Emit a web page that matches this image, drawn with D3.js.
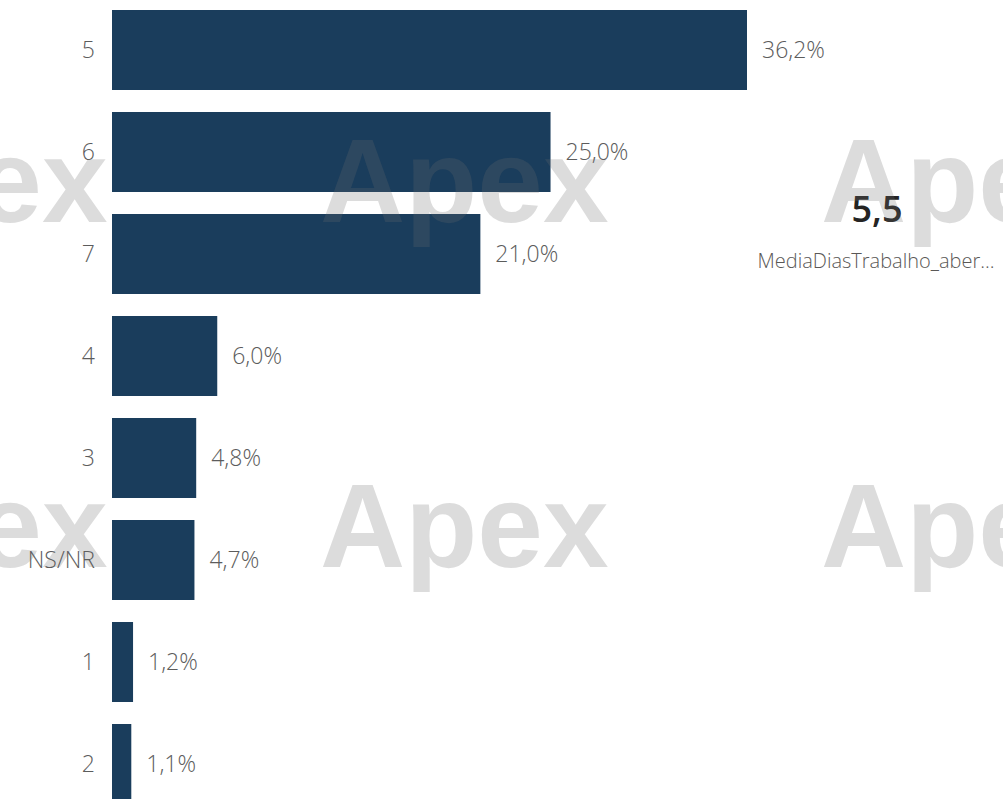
<!DOCTYPE html>
<html>
<head>
<meta charset="utf-8">
<script src="https://cdn.jsdelivr.net/npm/d3@7"></script>
<style>
  body { margin: 0; background: #fff; }
  svg { display: block; }
</style>
</head>
<body>
<div class="chart"></div>
<script>
// chart data
var categories = ["5", "6", "7", "4", "3", "NS/NR", "1", "2"];
var percents = [36.2, 25.0, 21.0, 6.0, 4.8, 4.7, 1.2, 1.1];
var kpiValue = "5,5";
var kpiLabel = "MediaDiasTrabalho_aber...";

var svgWidth = 1003;
var svgHeight = 799;

var svg = d3.select(".chart")
  .append("svg")
  .attr("width", svgWidth)
  .attr("height", svgHeight);

var fmt = d => d.toFixed(1).replace(".", ",") + "%";

// scales
var xScale = d3.scaleLinear()
  .domain([0, d3.max(percents)])
  .range([112, 747]);

var yScale = d3.scaleBand()
  .domain(categories)
  .range([10, 804])
  .paddingInner(22 / 102)
  .paddingOuter(0);

var rows = categories.map((c, i) => ({ cat: c, value: percents[i] }));

// bars
svg.selectAll("rect.bar")
  .data(rows)
  .enter()
  .append("rect")
  .attr("class", "bar")
  .attr("x", xScale(0))
  .attr("y", d => yScale(d.cat))
  .attr("width", d => xScale(d.value) - xScale(0))
  .attr("height", yScale.bandwidth())
  .attr("fill", "#1a3d5c");

// category labels
svg.selectAll("text.cat")
  .data(rows)
  .enter()
  .append("text")
  .attr("class", "cat")
  .attr("x", 95)
  .attr("y", d => yScale(d.cat) + yScale.bandwidth() / 2)
  .attr("dy", "0.35em")
  .attr("text-anchor", "end")
  .attr("font-family", "Open Sans, sans-serif")
  .attr("font-weight", 300)
  .attr("font-size", 23)
  .attr("fill", "#5c5c5c")
  .text(d => d.cat);

// value labels
svg.selectAll("text.val")
  .data(rows)
  .enter()
  .append("text")
  .attr("class", "val")
  .attr("x", d => xScale(d.value) + 15)
  .attr("y", d => yScale(d.cat) + yScale.bandwidth() / 2)
  .attr("dy", "0.35em")
  .attr("font-family", "Open Sans, sans-serif")
  .attr("font-weight", 300)
  .attr("font-size", 23)
  .attr("fill", "#5c5c5c")
  .text(d => fmt(d.value));

// kpi card
svg.append("text")
  .attr("x", 877)
  .attr("y", 222)
  .attr("text-anchor", "middle")
  .attr("font-family", "Open Sans, sans-serif")
  .attr("font-weight", 600)
  .attr("font-size", 36)
  .attr("fill", "#252423")
  .text(kpiValue);

svg.append("text")
  .attr("x", 876)
  .attr("y", 268)
  .attr("text-anchor", "middle")
  .attr("font-family", "Open Sans, sans-serif")
  .attr("font-size", 20)
  .attr("font-weight", 300)
  .attr("fill", "#5a5856")
  .text(kpiLabel);

// watermark tiles on top
var wm = svg.append("g").attr("pointer-events", "none");
[222, 567].forEach(function(by) {
  [-181, 320, 821].forEach(function(bx) {
    wm.append("text")
      .attr("x", bx)
      .attr("y", by)
      .attr("font-family", "Liberation Sans, Arial, sans-serif")
      .attr("font-weight", "bold")
      .attr("font-size", 118)
      .attr("fill", "#6e6e6e")
      .attr("fill-opacity", 0.24)
      .text("Apex");
  });
});
</script>
</body>
</html>
